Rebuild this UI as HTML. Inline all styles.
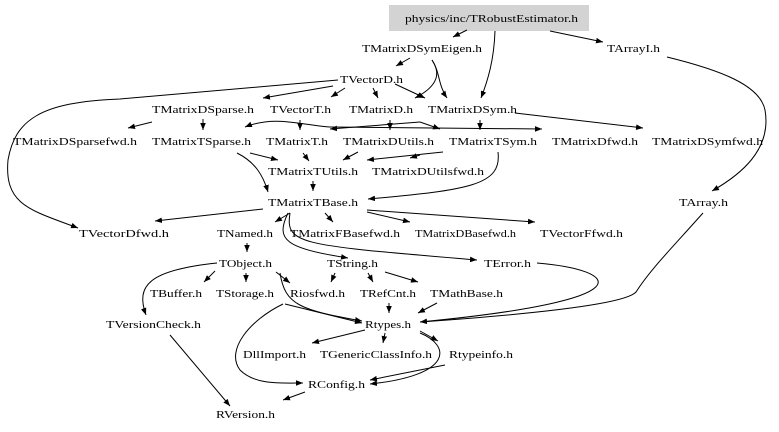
<!DOCTYPE html>
<html><head><meta charset="utf-8"><style>
html,body{margin:0;padding:0;background:#fff;}
svg{display:block;}
text{font-family:"Liberation Serif",serif;font-size:11px;fill:#000;}
path,line{stroke:#000;stroke-width:1;fill:none;}
</style></head><body>
<svg width="779" height="432" viewBox="0 0 779 432" xmlns="http://www.w3.org/2000/svg">
<defs><marker id="a" viewBox="0 0 10 10" refX="10" refY="5" markerWidth="7" markerHeight="7" orient="auto" markerUnits="userSpaceOnUse"><path d="M0,1 L10,5 L0,9 Z" style="fill:#000;stroke:none"/></marker></defs>
<rect x="389" y="5" width="200" height="26" fill="#d3d3d3"/>
<g>
<text x="405" y="22" textLength="173" lengthAdjust="spacingAndGlyphs">physics/inc/TRobustEstimator.h</text>
<text x="362" y="52" textLength="120" lengthAdjust="spacingAndGlyphs">TMatrixDSymEigen.h</text>
<text x="607" y="52" textLength="53" lengthAdjust="spacingAndGlyphs">TArrayI.h</text>
<text x="340" y="83" textLength="63" lengthAdjust="spacingAndGlyphs">TVectorD.h</text>
<text x="152" y="113" textLength="102" lengthAdjust="spacingAndGlyphs">TMatrixDSparse.h</text>
<text x="270" y="113" textLength="61" lengthAdjust="spacingAndGlyphs">TVectorT.h</text>
<text x="349" y="113" textLength="64" lengthAdjust="spacingAndGlyphs">TMatrixD.h</text>
<text x="428" y="113" textLength="89" lengthAdjust="spacingAndGlyphs">TMatrixDSym.h</text>
<text x="13" y="145" textLength="124" lengthAdjust="spacingAndGlyphs">TMatrixDSparsefwd.h</text>
<text x="152" y="145" textLength="99" lengthAdjust="spacingAndGlyphs">TMatrixTSparse.h</text>
<text x="266" y="145" textLength="62" lengthAdjust="spacingAndGlyphs">TMatrixT.h</text>
<text x="343" y="145" textLength="91" lengthAdjust="spacingAndGlyphs">TMatrixDUtils.h</text>
<text x="449" y="145" textLength="88" lengthAdjust="spacingAndGlyphs">TMatrixTSym.h</text>
<text x="552" y="145" textLength="86" lengthAdjust="spacingAndGlyphs">TMatrixDfwd.h</text>
<text x="652" y="145" textLength="111" lengthAdjust="spacingAndGlyphs">TMatrixDSymfwd.h</text>
<text x="268" y="175" textLength="90" lengthAdjust="spacingAndGlyphs">TMatrixTUtils.h</text>
<text x="372" y="175" textLength="112" lengthAdjust="spacingAndGlyphs">TMatrixDUtilsfwd.h</text>
<text x="268" y="206" textLength="90" lengthAdjust="spacingAndGlyphs">TMatrixTBase.h</text>
<text x="679" y="206" textLength="49" lengthAdjust="spacingAndGlyphs">TArray.h</text>
<text x="79" y="237" textLength="90" lengthAdjust="spacingAndGlyphs">TVectorDfwd.h</text>
<text x="217" y="237" textLength="56" lengthAdjust="spacingAndGlyphs">TNamed.h</text>
<text x="290" y="237" textLength="110" lengthAdjust="spacingAndGlyphs">TMatrixFBasefwd.h</text>
<text x="415" y="237" textLength="101" lengthAdjust="spacingAndGlyphs">TMatrixDBasefwd.h</text>
<text x="540" y="237" textLength="83" lengthAdjust="spacingAndGlyphs">TVectorFfwd.h</text>
<text x="219" y="267" textLength="53" lengthAdjust="spacingAndGlyphs">TObject.h</text>
<text x="327" y="267" textLength="51" lengthAdjust="spacingAndGlyphs">TString.h</text>
<text x="484" y="267" textLength="47" lengthAdjust="spacingAndGlyphs">TError.h</text>
<text x="150" y="297" textLength="52" lengthAdjust="spacingAndGlyphs">TBuffer.h</text>
<text x="216" y="297" textLength="58" lengthAdjust="spacingAndGlyphs">TStorage.h</text>
<text x="290" y="297" textLength="55" lengthAdjust="spacingAndGlyphs">Riosfwd.h</text>
<text x="360" y="297" textLength="56" lengthAdjust="spacingAndGlyphs">TRefCnt.h</text>
<text x="430" y="297" textLength="73" lengthAdjust="spacingAndGlyphs">TMathBase.h</text>
<text x="106" y="328" textLength="95" lengthAdjust="spacingAndGlyphs">TVersionCheck.h</text>
<text x="365" y="328" textLength="46" lengthAdjust="spacingAndGlyphs">Rtypes.h</text>
<text x="243" y="358" textLength="63" lengthAdjust="spacingAndGlyphs">DllImport.h</text>
<text x="320" y="358" textLength="112" lengthAdjust="spacingAndGlyphs">TGenericClassInfo.h</text>
<text x="449" y="358" textLength="64" lengthAdjust="spacingAndGlyphs">Rtypeinfo.h</text>
<text x="308" y="388" textLength="57" lengthAdjust="spacingAndGlyphs">RConfig.h</text>
<text x="216" y="418" textLength="59" lengthAdjust="spacingAndGlyphs">RVersion.h</text>
</g>
<path d="M703,213 C670,250 650,270 636,292 C625,305 520,315 420,322"/>
<g marker-end="url(#a)">
<path d="M467,30 L453,37"/>
<path d="M495,31 C494,60 488,80 481,98"/>
<path d="M550,31 L603,42"/>
<path d="M667,57 C720,70 760,85 765,110 C772,150 740,175 712,191"/>
<path d="M410,58 L396,66"/>
<path d="M432,60 C440,72 440,85 415,98"/>
<path d="M432,60 C440,72 438,85 447,98"/>
<path d="M338,80 L120,99 C40,102 15,120 8,160 C4,205 30,210 78,228"/>
<path d="M333,86 L263,98"/>
<path d="M345,88 L331,97"/>
<path d="M373,88 L378,98"/>
<path d="M395,84 L425,98"/>
<path d="M152,122 L128,128"/>
<path d="M203,119 L203,130"/>
<path d="M300,120 L300,130"/>
<path d="M390,120 L390,130"/>
<path d="M480,120 L480,130"/>
<path d="M330,127 C300,125 275,115 245,127"/>
<path d="M330,127 L542,129"/>
<path d="M420,122 L330,129"/>
<path d="M420,122 L440,129"/>
<path d="M515,113 L643,128"/>
<path d="M250,153 L278,160"/>
<path d="M237,153 C255,162 263,175 268,192"/>
<path d="M303,153 L309,161"/>
<path d="M358,152 L343,160"/>
<path d="M443,152 L367,160"/>
<path d="M420,155 L410,158"/>
<path d="M498,152 C502,185 470,190 368,199"/>
<path d="M313,181 L313,191"/>
<path d="M263,209 L155,221"/>
<path d="M290,213 L275,222"/>
<path d="M325,213 L333,222"/>
<path d="M367,212 L410,222"/>
<path d="M367,210 L535,222"/>
<path d="M288,213 C275,240 285,248 348,258"/>
<path d="M290,213 C285,245 300,245 477,260"/>
<path d="M247,243 L247,252"/>
<path d="M217,263 C150,270 135,285 146,315"/>
<path d="M215,271 L204,282"/>
<path d="M246,273 L246,282"/>
<path d="M276,272 L290,283"/>
<path d="M280,273 C285,305 300,310 362,321"/>
<path d="M335,273 L331,282"/>
<path d="M368,273 L373,282"/>
<path d="M385,272 L418,282"/>
<path d="M537,263 C620,270 650,300 420,322"/>
<path d="M389,303 L389,313"/>
<path d="M437,303 L418,313"/>
<path d="M285,304 L362,323"/>
<path d="M283,304 C250,320 225,350 240,370 C255,385 280,383 303,383"/>
<path d="M365,330 L312,343"/>
<path d="M385,333 L383,343"/>
<path d="M420,331 L438,341"/>
<path d="M420,333 C450,345 455,375 370,384"/>
<path d="M445,365 L370,380"/>
<path d="M170,335 L230,406"/>
<path d="M305,392 L283,400"/>
</g>
</svg>
</body></html>
